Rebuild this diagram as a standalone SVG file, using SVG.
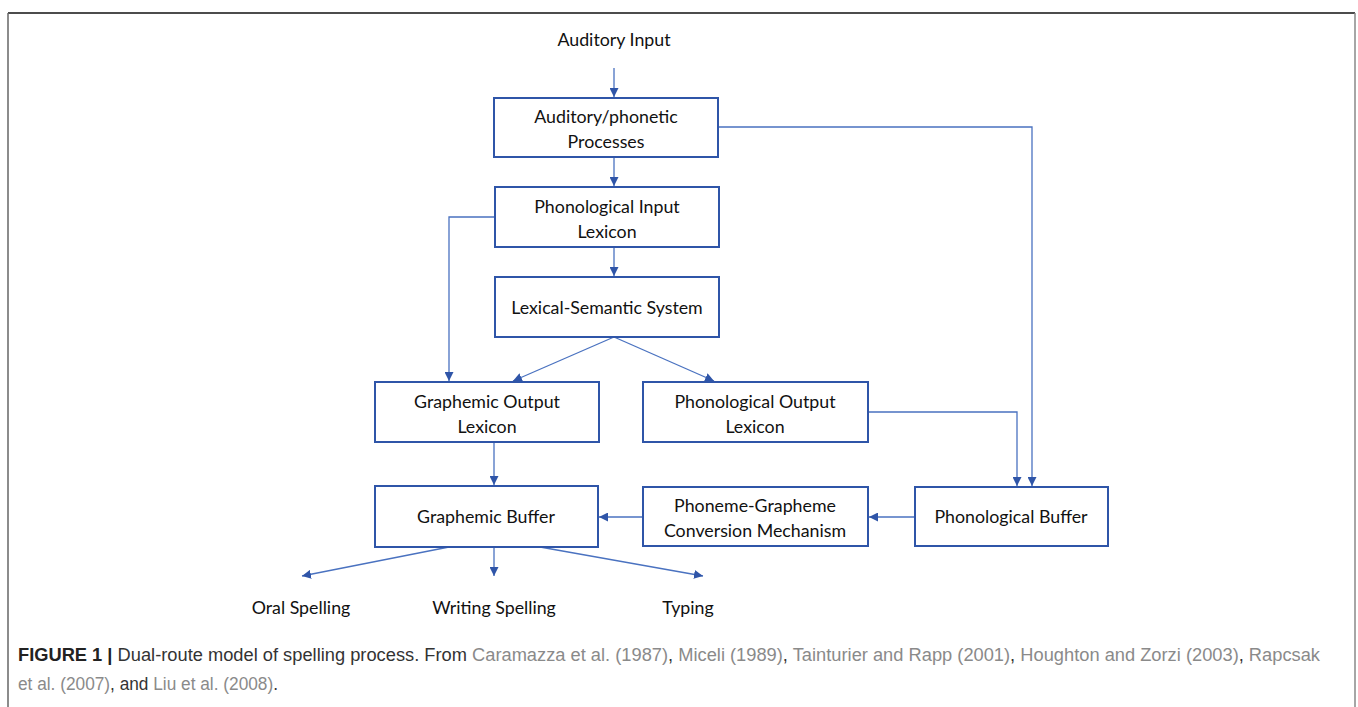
<svg xmlns="http://www.w3.org/2000/svg" width="1358" height="707" viewBox="0 0 1358 707">
<defs>
<style>
.box{fill:#fff;stroke:#2f55a8;stroke-width:2}
.lbl{font-family:Lato,"Open Sans",sans-serif;font-size:17.8px;fill:#111;text-anchor:middle}
.ln{fill:none;stroke:#4a72c0;stroke-width:1.3}
.cap{font-family:"Liberation Sans",Arial,sans-serif;font-size:17.5px;fill:#333}
.ref{fill:#8a8a8a}
</style>
<marker id="ah" viewBox="0 0 10 10" refX="10" refY="5" markerWidth="9" markerHeight="9" markerUnits="userSpaceOnUse" orient="auto">
<path d="M0,0 L10,5 L0,10 z" fill="#2f55a8"/>
</marker>
</defs>
<rect width="1358" height="707" fill="#fff"/>
<g id="frame">
<line x1="8" y1="13" x2="1355" y2="13" stroke="#111" stroke-width="1.5"/>
<line x1="8" y1="13" x2="8" y2="707" stroke="#666" stroke-width="1.5"/>
<line x1="1355" y1="13" x2="1355" y2="707" stroke="#888" stroke-width="1.5"/>
</g>
<g id="connectors">
<line class="ln" x1="614" y1="68" x2="614" y2="97" marker-end="url(#ah)"/>
<line class="ln" x1="614" y1="157" x2="614" y2="186" marker-end="url(#ah)"/>
<line class="ln" x1="614" y1="247" x2="614" y2="276" marker-end="url(#ah)"/>
<polyline class="ln" points="718,127 1032,127 1032,486" marker-end="url(#ah)"/>
<polyline class="ln" points="868,412 1017,412 1017,486" marker-end="url(#ah)"/>
<polyline class="ln" points="495,217 449,217 449,381" marker-end="url(#ah)"/>
<line class="ln" x1="614" y1="337" x2="513" y2="381" marker-end="url(#ah)"/>
<line class="ln" x1="614" y1="337" x2="714" y2="381" marker-end="url(#ah)"/>
<line class="ln" x1="494" y1="442" x2="494" y2="485" marker-end="url(#ah)"/>
<line class="ln" x1="643" y1="517" x2="599" y2="517" marker-end="url(#ah)"/>
<line class="ln" x1="915" y1="517" x2="869" y2="517" marker-end="url(#ah)"/>
<line class="ln" x1="449" y1="547" x2="302" y2="576" marker-end="url(#ah)"/>
<line class="ln" x1="494" y1="547" x2="494" y2="576" marker-end="url(#ah)"/>
<line class="ln" x1="540" y1="547" x2="703" y2="576" marker-end="url(#ah)"/>
</g>
<g id="auditory-input"><text class="lbl" x="614" y="46">Auditory Input</text></g>
<g id="auditory-phonetic"><rect class="box" x="494" y="98" width="224" height="59"/><text class="lbl" x="606" y="123">Auditory/phonetic</text><text class="lbl" x="606" y="148">Processes</text></g>
<g id="phon-input-lexicon"><rect class="box" x="495" y="187" width="224" height="60"/><text class="lbl" x="607" y="213">Phonological Input</text><text class="lbl" x="607" y="238">Lexicon</text></g>
<g id="lexical-semantic"><rect class="box" x="495" y="277" width="224" height="60"/><text class="lbl" x="607" y="314">Lexical-Semantic System</text></g>
<g id="graphemic-output-lexicon"><rect class="box" x="375" y="382" width="224" height="60"/><text class="lbl" x="487" y="408">Graphemic Output</text><text class="lbl" x="487" y="433">Lexicon</text></g>
<g id="phon-output-lexicon"><rect class="box" x="643" y="382" width="225" height="60"/><text class="lbl" x="755" y="408">Phonological Output</text><text class="lbl" x="755" y="433">Lexicon</text></g>
<g id="graphemic-buffer"><rect class="box" x="375" y="486" width="223" height="61"/><text class="lbl" x="486" y="523">Graphemic Buffer</text></g>
<g id="phoneme-grapheme"><rect class="box" x="643" y="487" width="225" height="59"/><text class="lbl" x="755" y="512">Phoneme-Grapheme</text><text class="lbl" x="755" y="537">Conversion Mechanism</text></g>
<g id="phon-buffer"><rect class="box" x="915" y="487" width="193" height="59"/><text class="lbl" x="1011" y="523">Phonological Buffer</text></g>
<g id="oral-spelling"><text class="lbl" x="301" y="614">Oral Spelling</text></g>
<g id="writing-spelling"><text class="lbl" x="494" y="614">Writing Spelling</text></g>
<g id="typing"><text class="lbl" x="688" y="614">Typing</text></g>
<g id="caption">
<text class="cap" x="18" y="661" textLength="1302" lengthAdjust="spacingAndGlyphs"><tspan font-weight="bold" fill="#222">FIGURE 1 | </tspan>Dual-route model of spelling process. From <tspan class="ref">Caramazza et al. (1987)</tspan>, <tspan class="ref">Miceli (1989)</tspan>, <tspan class="ref">Tainturier and Rapp (2001)</tspan>, <tspan class="ref">Houghton and Zorzi (2003)</tspan>, <tspan class="ref">Rapcsak</tspan></text>
<text class="cap" x="18" y="690" textLength="260" lengthAdjust="spacingAndGlyphs"><tspan class="ref">et al. (2007)</tspan>, and <tspan class="ref">Liu et al. (2008)</tspan>.</text>
</g>
</svg>
